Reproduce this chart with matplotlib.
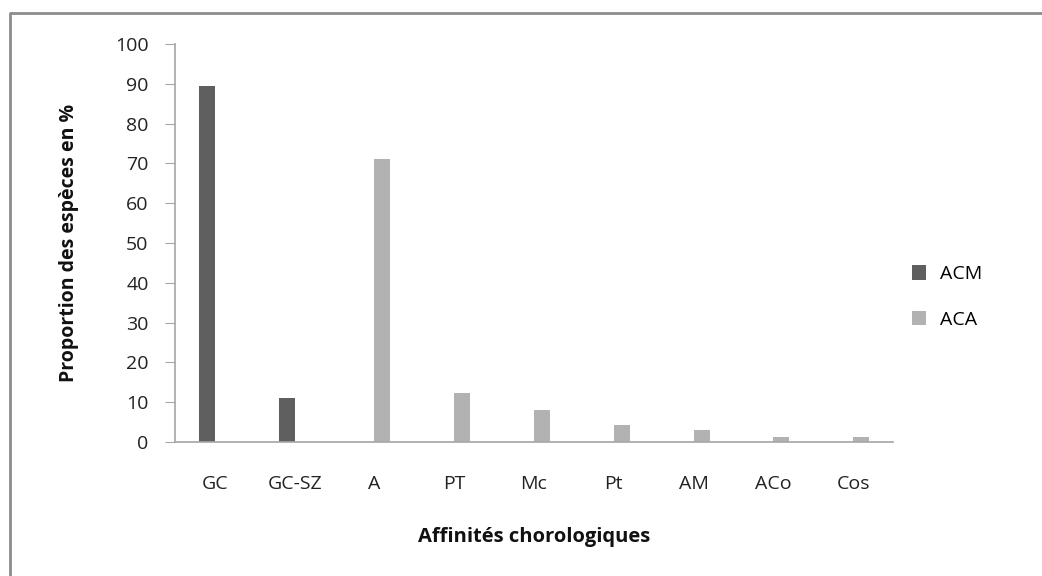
import numpy as np
import matplotlib.pyplot as plt
from matplotlib.lines import Line2D

# Chart data
categories = ['GC', 'GC-SZ', 'A', 'PT', 'Mc', 'Pt', 'AM', 'ACo', 'Cos']
acm_values = [89.5, 11.0, 0, 0, 0, 0, 0, 0, 0]
aca_values = [0, 0, 71.2, 12.3, 8.0, 4.3, 3.0, 1.2, 1.2]
y_ticks = [0, 10, 20, 30, 40, 50, 60, 70, 80, 90, 100]

plt.rcParams['font.family'] = ['Open Sans', 'DejaVu Sans']

W, H = 1042, 576
fig = plt.figure(figsize=(W / 100, H / 100), dpi=100)
fig.patch.set_facecolor('white')

# outer chart border (only top and left edges are visible in the reference)
fig.add_artist(Line2D([10 / W, 10 / W, 1.0], [0.0, 1 - 13 / H, 1 - 13 / H],
                      transform=fig.transFigure, color='#8c8c8c', linewidth=2))

ax = fig.add_axes([175 / W, 1 - 442 / H, (893 - 175) / W, (442 - 44) / H])

x = np.arange(len(categories))
width = 0.2
acm_bars = ax.bar(x - width / 2, acm_values, width, color='#5f5f5f', label='ACM')
aca_bars = ax.bar(x + width / 2, aca_values, width, color='#b2b2b2', label='ACA')

ax.set_xlim(-0.5, len(categories) - 0.5)
ax.set_ylim(0, 100)
ax.set_yticks(y_ticks)
ax.set_xticks(x)
ax.set_xticklabels(categories)

for side in ['top', 'right']:
    ax.spines[side].set_visible(False)
for side in ['left', 'bottom']:
    ax.spines[side].set_color('#a6a6a6')
    ax.spines[side].set_linewidth(1.2)

ax.tick_params(axis='y', direction='out', length=7, color='#a6a6a6',
               labelsize=14, labelcolor='#222222', pad=12)
ax.tick_params(axis='x', length=0, labelsize=14, labelcolor='#222222', pad=24)

ax.set_ylabel('Proportion des espèces en %', fontsize=14, fontweight='bold',
              color='#111111', labelpad=26)
ax.set_xlabel('Affinités chorologiques', fontsize=14.5, fontweight='bold',
              color='#111111', labelpad=24)

fig.legend(handles=[acm_bars, aca_bars], labels=['ACM', 'ACA'],
           loc='center left', bbox_to_anchor=(894 / W, 1 - 297 / H),
           frameon=False, fontsize=14, handlelength=0.75, handleheight=0.75,
           labelspacing=1.4, handletextpad=0.7)

fig.savefig('out.png', dpi=100)
